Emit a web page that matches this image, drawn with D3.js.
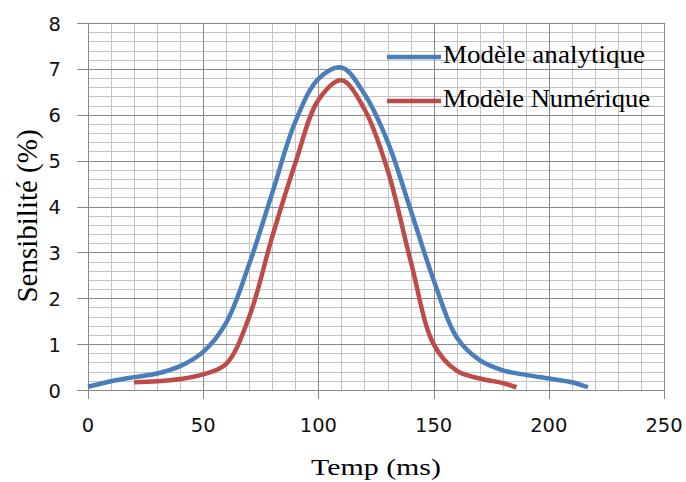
<!DOCTYPE html>
<html>
<head>
<meta charset="utf-8">
<script src="https://cdn.jsdelivr.net/npm/d3@7"></script>
<style>
  html, body { margin: 0; padding: 0; background: #fff; }
  svg { display: block; }
  .serif { font-family: 'Liberation Serif', 'Times New Roman', Times, serif; }
  .sans { font-family: 'DejaVu Sans', sans-serif; }
</style>
</head>
<body>
<svg id="chart" width="686" height="482"></svg>
<script>
// ---- data ----
const xTicks = [0, 50, 100, 150, 200, 250];
const yTicks = [0, 1, 2, 3, 4, 5, 6, 7, 8];
const seriesNames = ["Modèle analytique", "Modèle Numérique"];

const analytiqueT = [0, 10, 20, 30, 40, 50, 60, 70, 80, 90, 100, 110, 120, 130, 140, 150, 160, 170, 180, 190, 200, 210, 217];
const analytiqueV = [0.07, 0.19, 0.28, 0.36, 0.52, 0.83, 1.47, 2.75, 4.3, 5.85, 6.78, 7.03, 6.45, 5.42, 3.93, 2.4, 1.15, 0.65, 0.43, 0.33, 0.25, 0.17, 0.06];

const numeriqueT = [20, 30, 40, 50, 60, 70, 80, 90, 100, 110, 120, 130, 140, 150, 160, 170, 180, 186];
const numeriqueV = [0.17, 0.19, 0.24, 0.34, 0.57, 1.6, 3.35, 4.95, 6.32, 6.75, 6.12, 4.8, 2.82, 1.0, 0.42, 0.25, 0.15, 0.06];

const colors = ["#4A7EBB", "#BE4B48"];

// ---- layout ----
const svg = d3.select("#chart");
const x = d3.scaleLinear().domain([0, 250]).range([88, 664]);
const y = d3.scaleLinear().domain([0, 8]).range([390, 23]);

// minor grid
const minorX = d3.range(0, 251, 10).filter(v => v % 50 !== 0);
const minorY = d3.range(0, 8.001, 0.2).map(v => +v.toFixed(1)).filter(v => Math.abs(v - Math.round(v)) > 1e-6);

const g = svg.append("g");
g.selectAll("line.minx").data(minorX).join("line")
  .attr("x1", d => Math.round(x(d)) + 0.5).attr("x2", d => Math.round(x(d)) + 0.5)
  .attr("y1", y(8)).attr("y2", y(0))
  .attr("stroke", "#c4c4c4").attr("stroke-width", 1);
g.selectAll("line.miny").data(minorY).join("line")
  .attr("y1", d => Math.round(y(d)) + 0.5).attr("y2", d => Math.round(y(d)) + 0.5)
  .attr("x1", x(0)).attr("x2", x(250))
  .attr("stroke", "#c4c4c4").attr("stroke-width", 1);

// major grid + ticks
g.selectAll("line.majy").data(yTicks).join("line")
  .attr("y1", d => Math.round(y(d)) + 0.5).attr("y2", d => Math.round(y(d)) + 0.5)
  .attr("x1", x(0) - 11).attr("x2", x(250))
  .attr("stroke", "#8a8a8a").attr("stroke-width", 1);
g.selectAll("line.majx").data(xTicks).join("line")
  .attr("x1", d => Math.round(x(d)) + 0.5).attr("x2", d => Math.round(x(d)) + 0.5)
  .attr("y1", y(8)).attr("y2", y(0) + 9)
  .attr("stroke", "#8a8a8a").attr("stroke-width", 1);

// tick labels
g.selectAll("text.xt").data(xTicks).join("text")
  .attr("class", "sans")
  .attr("x", d => x(d)).attr("y", 432)
  .attr("text-anchor", "middle")
  .attr("font-size", 19.5)
  .attr("fill", "#111")
  .text(d => d);
g.selectAll("text.yt").data(yTicks).join("text")
  .attr("class", "sans")
  .attr("x", 61).attr("y", d => y(d) + 7.5)
  .attr("text-anchor", "end")
  .attr("font-size", 19.5)
  .attr("fill", "#111")
  .text(d => d);

// axis titles
svg.append("text")
  .attr("class", "serif")
  .attr("transform", "translate(376,475) scale(1.3,1)")
  .attr("text-anchor", "middle")
  .attr("font-size", 23)
  .attr("fill", "#000")
  .text("Temp (ms)");
svg.append("text")
  .attr("class", "serif")
  .attr("transform", "translate(37,216) rotate(-90)")
  .attr("text-anchor", "middle")
  .attr("font-size", 29)
  .attr("fill", "#000")
  .text("Sensibilité (%)");

// curves
const line = d3.line().x(d => x(d[0])).y(d => y(d[1])).curve(d3.curveCatmullRom.alpha(0.5));
const series = [
  d3.zip(analytiqueT, analytiqueV),
  d3.zip(numeriqueT, numeriqueV)
];
svg.append("g").selectAll("path").data(series).join("path")
  .attr("d", line)
  .attr("fill", "none")
  .attr("stroke", (d, i) => colors[i])
  .attr("stroke-width", 4.5)
  .attr("stroke-linecap", "butt")
  .attr("stroke-linejoin", "round");

// legend
const leg = svg.append("g");
const legY = [57, 101];
seriesNames.forEach((name, i) => {
  leg.append("line")
    .attr("x1", 387).attr("x2", 441)
    .attr("y1", legY[i]).attr("y2", legY[i])
    .attr("stroke", colors[i]).attr("stroke-width", 4.5);
  leg.append("text")
    .attr("class", "serif")
    .attr("x", 443).attr("y", legY[i] + 6)
    .attr("font-size", 26)
    .attr("fill", "#000")
    .attr("textLength", i === 0 ? 202 : 207)
    .attr("lengthAdjust", "spacingAndGlyphs")
    .text(name);
});
</script>
</body>
</html>
